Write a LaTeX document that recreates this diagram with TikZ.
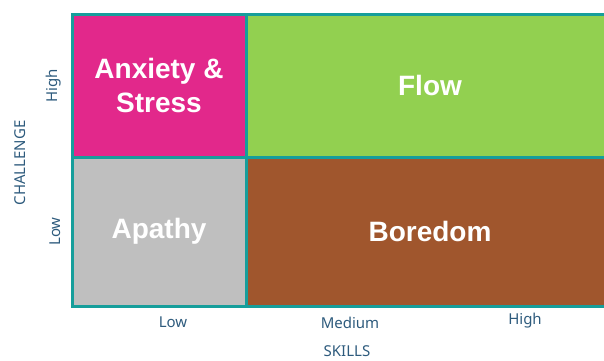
\documentclass[tikz,border=0pt]{standalone}
\usepackage{fontspec}
\setmainfont{Noto Sans}
\newfontfamily\cellfont{Liberation Sans}
\usetikzlibrary{positioning}

\definecolor{frameteal}{HTML}{169E9B}
\definecolor{axisblue}{HTML}{2E5B7D}
\definecolor{anxietypink}{HTML}{E2288B}
\definecolor{flowgreen}{HTML}{92D050}
\definecolor{apathygray}{HTML}{BFBFBF}
\definecolor{boredombrown}{HTML}{A0562D}

\begin{document}
\begin{tikzpicture}[x=1pt, y=-1pt,
  cell/.style={draw=frameteal, line width=3pt, inner sep=0pt, outer sep=0pt, align=center, text=white, font=\cellfont\bfseries\fontsize{28}{34}\selectfont},
  axislabel/.style={text=axisblue, font=\fontsize{15}{18}\selectfont, inner sep=0pt}]
  \useasboundingbox (0,0) rectangle (604,360);
  \clip (0,0) rectangle (604,360);

  % the four quadrants
  \node (anxiety) [cell, fill=anxietypink, minimum width=174pt, minimum height=143pt] at (159,85.5) {Anxiety \&\\Stress};
  \node (flow) [cell, fill=flowgreen, minimum width=368pt, minimum height=143pt, right=0pt of anxiety] {Flow};
  \node (apathy) [cell, fill=apathygray, minimum width=174pt, minimum height=149pt, below=0pt of anxiety] {Apathy};
  \node (boredom) [cell, fill=boredombrown, minimum width=368pt, minimum height=149pt, right=0pt of apathy] {Boredom};

  % challenge axis
  \node (chhigh) [axislabel, rotate=90, anchor=south] at ([xshift=-11pt]anxiety.west) {High};
  \node (chlow) [axislabel, rotate=90, anchor=south] at ([xshift=-11pt]apathy.west) {Low};
  \node (challenge) [axislabel, rotate=90] at (20,163) {CHALLENGE};

  % skills axis
  \node (sklow) [axislabel] at (173,322) {Low};
  \node (skmed) [axislabel] at (350,323) {Medium};
  \node (skhigh) [axislabel] at (525,321) {High};
  \node (skills) [axislabel] at (347,351) {SKILLS};
\end{tikzpicture}
\end{document}
